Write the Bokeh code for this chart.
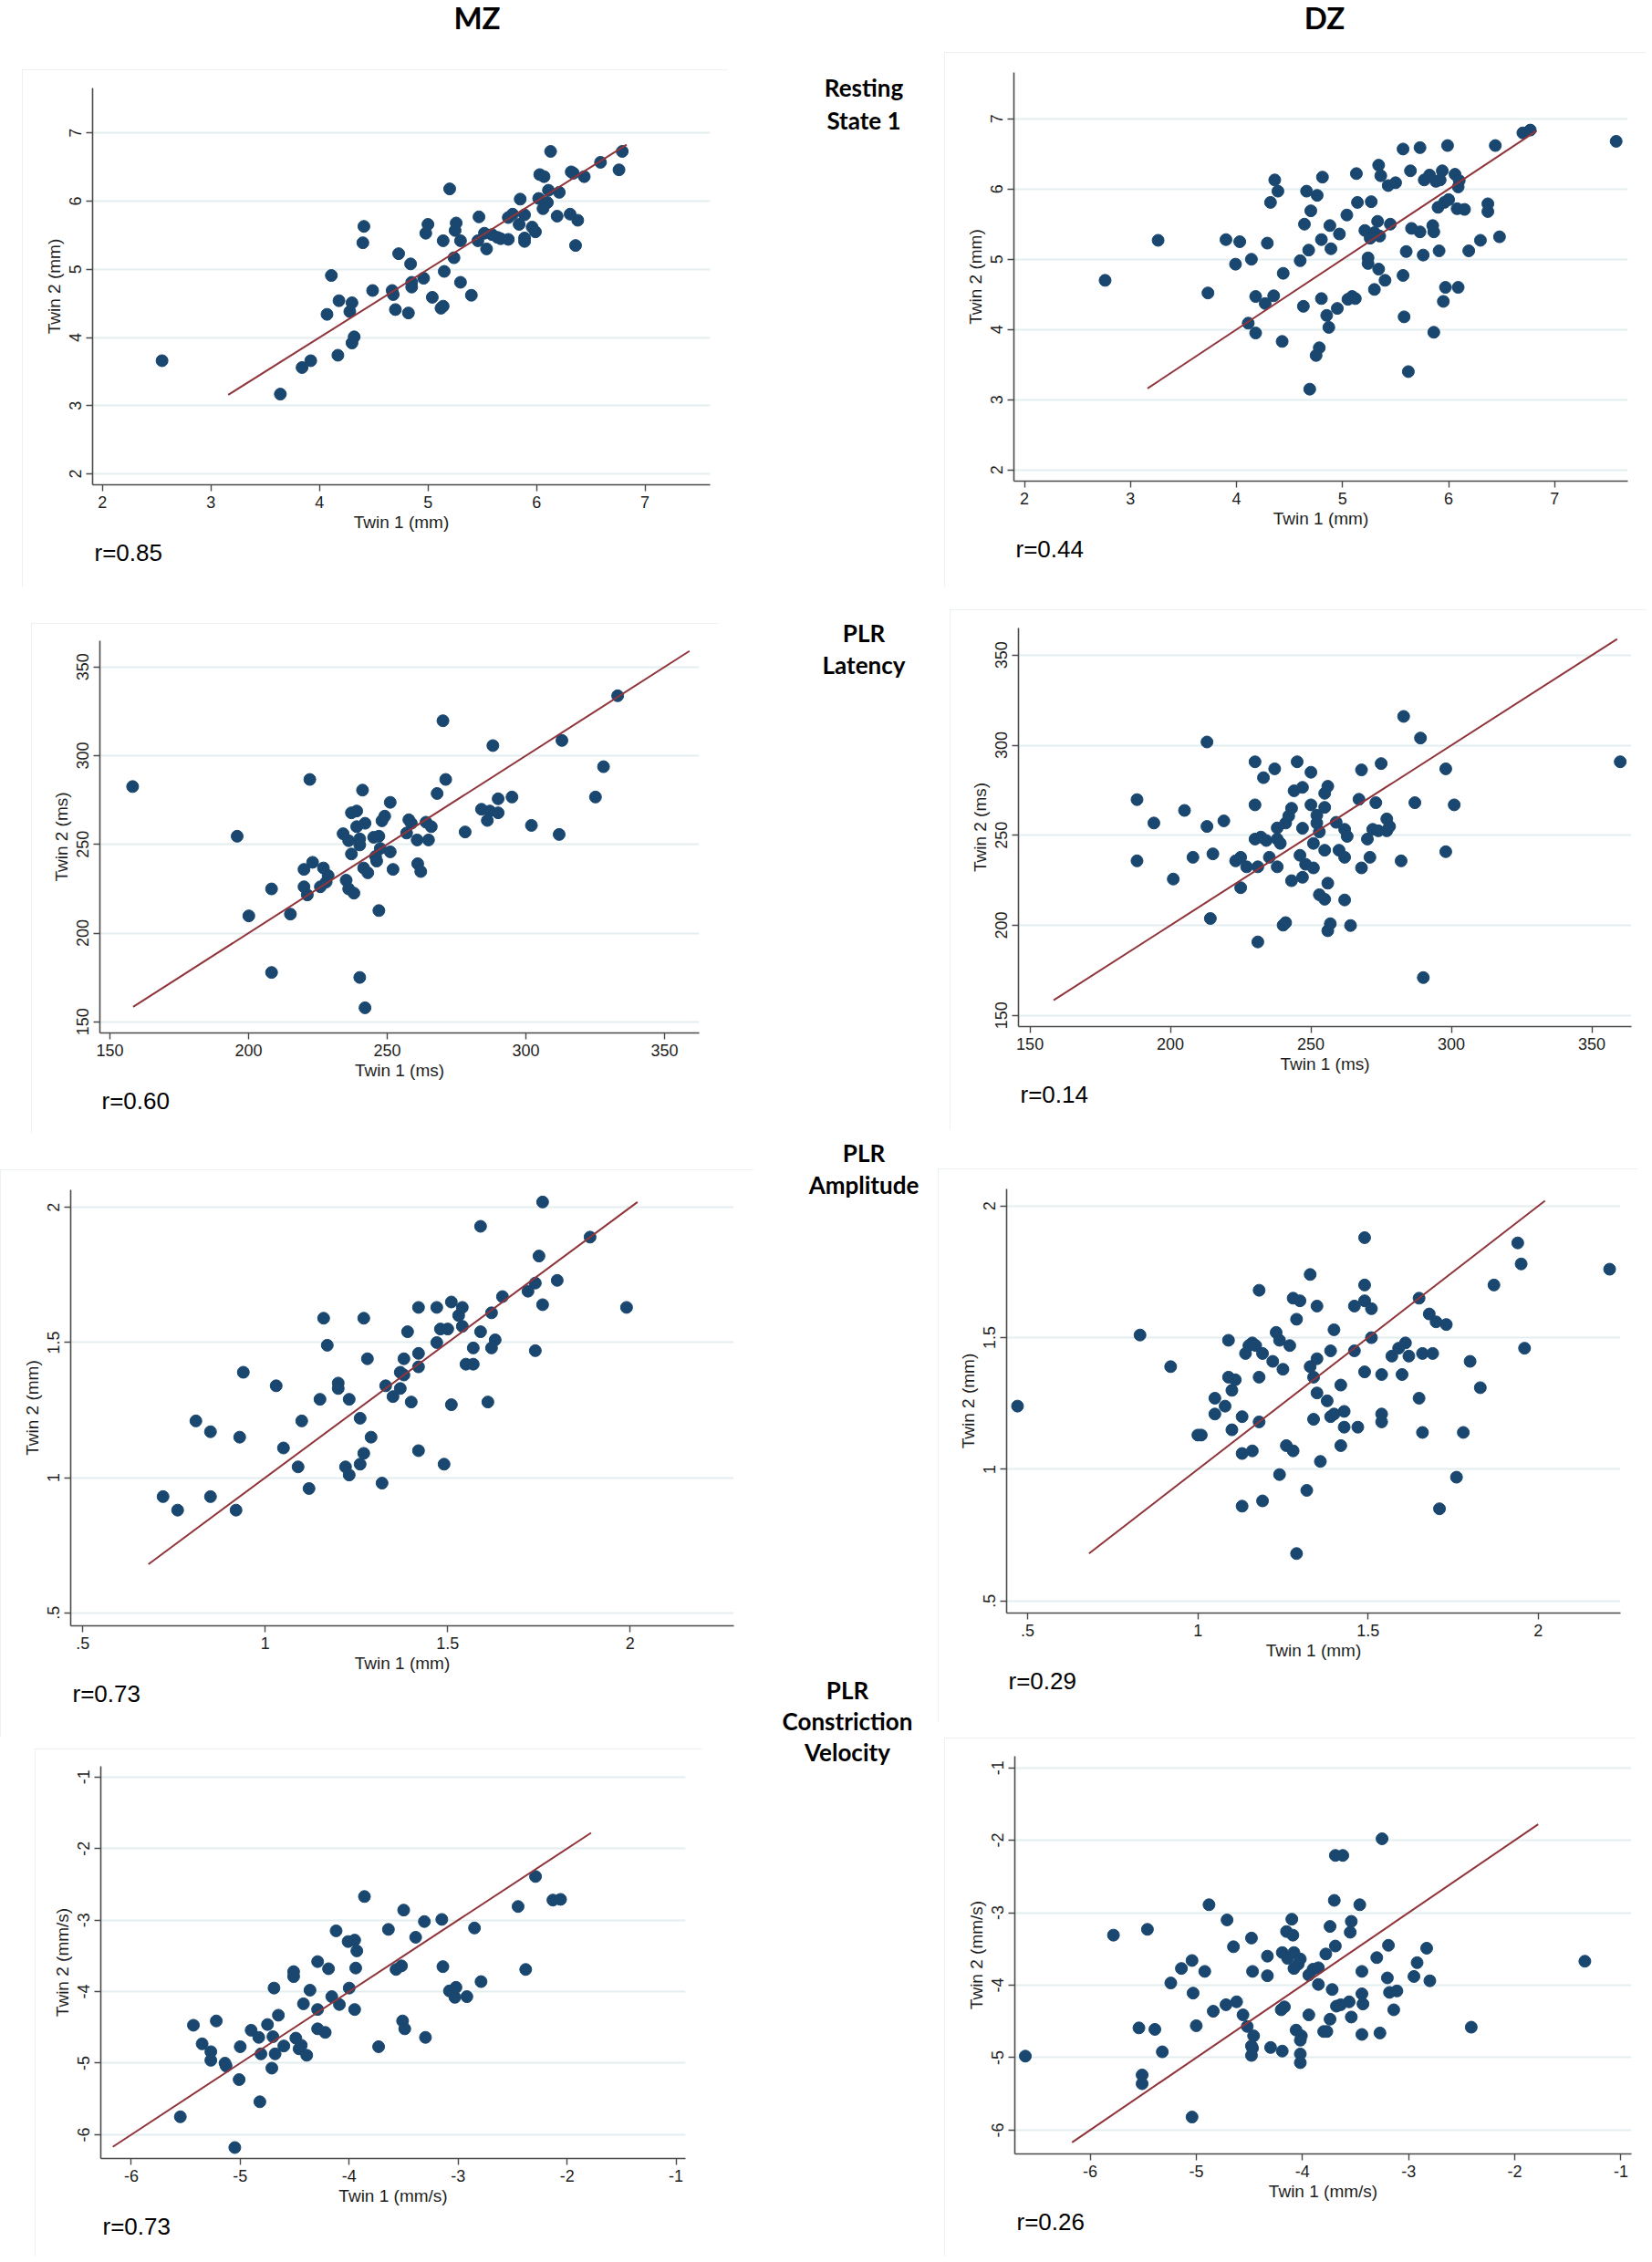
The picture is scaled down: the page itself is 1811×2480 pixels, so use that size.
from bokeh.plotting import figure
from bokeh.models import Range1d, FixedTicker, Title, Div, Spacer
from bokeh.layouts import row, column
from bokeh.embed import file_html
from bokeh.resources import INLINE

NAVY = "#1a476f"
MAROON = "#90353b"
GRID = "#e4edf0"
AXIS = "#4a4a4a"
TEXT = "#1e1e1e"
BOX = "#e6ecee"

# ---- data: twin 1 / twin 2 values ----
mz_rest_t1 = [2.55, 3.64, 3.84, 3.92, 4.17, 4.30, 4.32, 4.07, 4.28, 4.30,
              4.18, 4.11, 4.40, 4.41, 4.49, 4.67, 4.68, 4.70, 4.73, 4.82,
              4.84, 4.85, 4.85, 4.96, 4.98, 5.00, 5.04, 5.12, 5.14, 5.15,
              5.14, 5.20, 5.24, 5.25, 5.26, 5.30, 5.30, 5.40, 5.46, 5.47,
              5.52, 5.54, 5.59, 5.64, 5.67, 5.74, 5.74, 5.78, 5.84, 5.85,
              5.89, 5.89, 5.89, 5.96, 5.99, 6.02, 6.03, 6.07, 6.06, 6.10,
              6.11, 6.13, 6.19, 6.21, 6.31, 6.32, 6.34, 6.36, 6.38, 6.44,
              6.59, 6.76, 6.79]
mz_rest_t2 = [3.66, 3.17, 3.56, 3.66, 3.74, 3.92, 4.01, 4.34, 4.38, 4.51,
              4.54, 4.91, 5.39, 5.63, 4.69, 4.69, 4.63, 4.41, 5.23, 4.36,
              5.08, 4.81, 4.74, 4.87, 5.53, 5.66, 4.59, 4.43, 4.46, 4.97,
              5.42, 6.18, 5.17, 5.57, 5.68, 5.42, 4.81, 4.62, 5.42, 5.77,
              5.53, 5.30, 5.51, 5.47, 5.45, 5.44, 5.76, 5.81, 5.66, 6.03,
              5.80, 5.46, 5.41, 5.62, 5.55, 6.04, 6.39, 6.36, 5.89, 5.98,
              6.16, 6.73, 5.78, 6.13, 5.81, 6.43, 6.41, 5.35, 5.72, 6.36,
              6.57, 6.46, 6.73]

dz_rest_t1 = [2.76, 3.26, 3.73, 3.90, 4.03, 3.99, 4.14, 4.11, 4.18, 4.18,
              4.27, 4.35, 4.29, 4.32, 4.36, 4.39, 4.44, 4.43, 4.60, 4.63,
              4.64, 4.66, 4.68, 4.69, 4.70, 4.75, 4.78, 4.76, 4.80, 4.80,
              4.81, 4.85, 4.87, 4.88, 4.89, 4.95, 4.97, 5.04, 5.05, 5.09,
              5.12, 5.13, 5.14, 5.21, 5.24, 5.24, 5.26, 5.27, 5.30, 5.30,
              5.33, 5.34, 5.34, 5.35, 5.36, 5.40, 5.43, 5.45, 5.50, 5.57,
              5.57, 5.58, 5.60, 5.62, 5.64, 5.65, 5.73, 5.73, 5.76, 5.77,
              5.82, 5.85, 5.86, 5.86, 5.88, 5.90, 5.91, 5.92, 5.94, 5.95,
              5.96, 5.97, 5.99, 6.00, 6.06, 6.08, 6.09, 6.09, 6.10, 6.15,
              6.19, 6.30, 6.37, 6.37, 6.44, 6.48, 6.70, 6.77, 7.58]
dz_rest_t2 = [4.70, 5.27, 4.52, 5.28, 5.25, 4.93, 5.00, 4.09, 4.47, 3.95,
              4.37, 4.48, 5.23, 5.81, 6.13, 5.97, 4.80, 3.83, 4.98, 4.33,
              5.50, 5.97, 5.13, 3.15, 5.69, 3.63, 3.74, 5.91, 5.28, 4.44,
              6.17, 4.20, 4.03, 5.48, 5.15, 4.30, 5.36, 5.63, 4.43, 4.47,
              4.44, 6.22, 5.81, 5.41, 5.02, 4.94, 5.30, 5.82, 5.38, 4.57,
              5.54, 6.34, 4.86, 5.33, 6.19, 4.70, 6.05, 5.50, 6.09, 6.57,
              4.77, 4.18, 5.11, 3.40, 6.26, 5.44, 5.39, 6.59, 5.06, 6.13,
              6.20, 5.48, 5.39, 3.96, 6.11, 5.74, 5.12, 6.13, 6.26, 4.40,
              5.81, 4.60, 6.62, 5.85, 6.21, 5.72, 6.03, 4.60, 6.12, 5.71,
              5.12, 5.27, 5.79, 5.68, 6.62, 5.32, 6.80, 6.84, 6.68]

mz_lat_t1 = [158.2, 195.9, 200.1, 208.3, 208.3, 215.1, 220.0, 220.0, 221.2, 222.1,
             223.1, 225.9, 227.0, 228.0, 228.7, 234.1, 235.2, 236.1, 236.1, 237.1,
             237.1, 238.0, 239.0, 239.0, 240.1, 240.1, 240.1, 241.1, 241.5, 242.0,
             242.0, 243.0, 245.1, 245.8, 246.2, 247.0, 247.0, 247.5, 248.1, 249.1,
             251.1, 251.1, 252.1, 257.0, 257.8, 258.7, 260.8, 261.0, 262.1, 264.0,
             264.9, 265.9, 268.0, 270.1, 271.1, 278.1, 284.0, 286.1, 287.0, 288.1,
             290.0, 290.0, 295.0, 302.0, 312.0, 313.0, 325.1, 328.0, 333.1]
mz_lat_t2 = [282.6, 254.6, 209.7, 224.9, 177.8, 210.7, 235.9, 226.1, 221.5, 286.6,
             239.9, 226.1, 236.7, 228.8, 232.4, 256.0, 229.8, 224.9, 252.1, 244.6,
             267.8, 222.5, 268.8, 260.0, 253.1, 249.7, 175.0, 280.6, 236.7, 261.9,
             157.9, 234.0, 254.0, 243.2, 240.6, 254.6, 212.7, 247.7, 263.3, 265.9,
             245.8, 273.7, 235.9, 256.4, 263.9, 261.9, 252.5, 239.1, 234.7, 262.5,
             252.5, 260.0, 278.7, 319.7, 286.6, 257.0, 269.8, 263.5, 268.8, 305.7,
             275.7, 267.8, 276.7, 260.7, 255.6, 308.6, 276.7, 293.8, 333.8]

dz_lat_t1 = [188.1, 188.1, 194.1, 201.0, 205.0, 208.0, 213.0, 213.0, 214.2, 215.1,
             219.0, 223.2, 225.0, 225.0, 227.1, 230.1, 230.1, 230.1, 231.1, 231.1,
             232.2, 233.1, 234.1, 235.2, 237.1, 238.0, 238.0, 238.0, 239.1, 240.1,
             241.0, 241.0, 242.1, 243.1, 243.1, 244.0, 245.1, 246.1, 247.0, 247.0,
             247.0, 248.1, 250.0, 250.0, 250.9, 250.9, 252.1, 252.1, 253.0, 253.0,
             254.9, 254.9, 254.9, 254.9, 256.0, 256.0, 256.0, 256.9, 259.0, 260.0,
             262.0, 262.0, 262.0, 262.9, 264.1, 267.1, 268.0, 268.0, 270.1, 271.0,
             272.0, 273.1, 274.0, 275.0, 277.0, 277.0, 278.0, 282.1, 283.0, 287.0,
             289.0, 290.0, 298.0, 298.0, 301.0, 360.1]
dz_lat_t2 = [269.8, 235.8, 256.8, 225.7, 263.8, 237.8, 301.8, 254.9, 203.8, 239.7,
             258.0, 235.8, 237.8, 220.9, 232.5, 290.8, 266.9, 247.9, 232.5, 190.8,
             249.0, 282.0, 247.1, 237.8, 286.9, 254.1, 247.9, 232.5, 245.5, 200.1,
             256.8, 201.5, 260.7, 265.0, 224.8, 274.7, 290.8, 238.9, 276.6, 253.9,
             226.7, 233.9, 285.0, 266.9, 245.5, 231.9, 261.1, 256.8, 251.9, 217.0,
             273.3, 265.5, 241.7, 214.5, 277.2, 223.4, 197.0, 200.9, 257.2, 241.7,
             253.3, 237.8, 214.1, 249.4, 199.9, 270.0, 286.3, 231.9, 247.9, 237.8,
             253.3, 268.1, 252.5, 289.8, 259.1, 252.5, 254.9, 235.8, 316.0, 268.1,
             304.0, 171.0, 286.9, 240.9, 266.9, 290.8]

mz_amp_t1 = [0.72, 0.76, 0.81, 0.85, 0.85, 0.92, 0.93, 0.94, 1.03, 1.05,
             1.09, 1.10, 1.12, 1.15, 1.16, 1.17, 1.20, 1.20, 1.22, 1.23,
             1.23, 1.26, 1.26, 1.27, 1.27, 1.28, 1.29, 1.32, 1.33, 1.35,
             1.37, 1.37, 1.38, 1.38, 1.39, 1.40, 1.42, 1.42, 1.42, 1.42,
             1.47, 1.47, 1.48, 1.49, 1.50, 1.51, 1.51, 1.53, 1.54, 1.54,
             1.55, 1.57, 1.57, 1.59, 1.59, 1.61, 1.62, 1.62, 1.63, 1.65,
             1.72, 1.74, 1.74, 1.75, 1.76, 1.76, 1.80, 1.89, 1.99]
mz_amp_t2 = [0.93, 0.88, 1.21, 1.17, 0.93, 0.88, 1.15, 1.39, 1.34, 1.11,
             1.04, 1.21, 0.96, 1.29, 1.59, 1.49, 1.35, 1.33, 1.04, 1.29,
             1.01, 1.22, 1.05, 1.09, 1.59, 1.44, 1.15, 0.98, 1.34, 1.30,
             1.33, 1.39, 1.44, 1.38, 1.54, 1.28, 1.63, 1.46, 1.41, 1.10,
             1.63, 1.50, 1.55, 1.05, 1.55, 1.65, 1.27, 1.60, 1.63, 1.56,
             1.42, 1.42, 1.48, 1.93, 1.54, 1.28, 1.61, 1.48, 1.51, 1.67,
             1.69, 1.72, 1.47, 1.82, 2.02, 1.64, 1.73, 1.89, 1.63]

dz_amp_t1 = [0.47, 0.83, 0.92, 1.00, 1.01, 1.05, 1.05, 1.08, 1.09, 1.09,
             1.10, 1.10, 1.11, 1.13, 1.13, 1.13, 1.14, 1.15, 1.16, 1.16,
             1.17, 1.18, 1.18, 1.18, 1.19, 1.19, 1.22, 1.23, 1.24, 1.24,
             1.25, 1.26, 1.27, 1.28, 1.28, 1.29, 1.29, 1.30, 1.32, 1.33,
             1.33, 1.34, 1.34, 1.35, 1.35, 1.35, 1.36, 1.38, 1.39, 1.39,
             1.40, 1.40, 1.42, 1.42, 1.43, 1.43, 1.46, 1.46, 1.47, 1.49,
             1.49, 1.49, 1.49, 1.51, 1.51, 1.54, 1.54, 1.54, 1.57, 1.59,
             1.60, 1.61, 1.62, 1.65, 1.65, 1.66, 1.66, 1.68, 1.69, 1.70,
             1.71, 1.73, 1.76, 1.78, 1.80, 1.83, 1.87, 1.94, 1.95, 1.96,
             2.21]
dz_amp_t2 = [1.24, 1.51, 1.39, 1.13, 1.13, 1.27, 1.21, 1.24, 1.49, 1.35,
             1.30, 1.15, 1.34, 0.86, 1.06, 1.20, 1.44, 1.47, 1.48, 1.07,
             1.47, 1.68, 1.35, 1.18, 1.44, 0.88, 1.41, 1.52, 1.49, 0.98,
             1.38, 1.09, 1.47, 1.65, 1.07, 1.57, 0.68, 1.64, 0.92, 1.74,
             1.39, 1.35, 1.19, 1.62, 1.29, 1.42, 1.03, 1.26, 1.45, 1.20,
             1.53, 1.21, 1.32, 1.09, 1.22, 1.16, 1.62, 1.45, 1.16, 1.88,
             1.70, 1.64, 1.37, 1.61, 1.50, 1.36, 1.21, 1.18, 1.43, 1.46,
             1.36, 1.48, 1.43, 1.65, 1.27, 1.44, 1.14, 1.59, 1.44, 1.56,
             0.85, 1.55, 0.97, 1.14, 1.41, 1.31, 1.70, 1.86, 1.78, 1.46,
             1.76]

mz_vel_t1 = [-5.55, -5.43, -5.35, -5.22, -5.27, -5.27, -5.14, -5.13, -5.05, -5.01,
             -5.00, -4.90, -4.83, -4.82, -4.81, -4.75, -4.71, -4.70, -4.69, -4.68,
             -4.65, -4.60, -4.51, -4.51, -4.49, -4.46, -4.44, -4.42, -4.39, -4.36,
             -4.29, -4.29, -4.29, -4.22, -4.19, -4.16, -4.12, -4.09, -4.01, -4.00,
             -3.95, -3.95, -3.94, -3.93, -3.86, -3.73, -3.64, -3.57, -3.52, -3.51,
             -3.50, -3.49, -3.39, -3.31, -3.30, -3.15, -3.14, -3.08, -3.03, -3.02,
             -2.92, -2.85, -2.79, -2.45, -2.38, -2.29, -2.13, -2.06]
mz_vel_t2 = [-5.75, -4.47, -4.73, -4.41, -4.84, -4.96, -5.00, -5.04, -6.18, -5.23,
             -4.77, -4.54, -4.64, -5.54, -4.87, -4.46, -5.07, -4.63, -3.95, -4.87,
             -4.33, -4.76, -3.72, -3.79, -4.65, -4.80, -4.75, -4.17, -4.89, -3.98,
             -4.52, -3.58, -4.25, -4.57, -3.68, -4.07, -3.15, -4.18, -3.30, -3.95,
             -3.28, -4.25, -3.67, -3.43, -2.67, -4.77, -3.13, -3.69, -3.64, -4.41,
             -2.86, -4.52, -3.24, -3.02, -4.64, -2.99, -3.65, -3.99, -4.08, -3.94,
             -4.07, -3.11, -3.86, -2.81, -3.69, -2.39, -2.72, -2.71]

dz_vel_t1 = [-6.61, -5.78, -5.54, -5.51, -5.51, -5.46, -5.39, -5.32, -5.24, -5.14,
             -5.04, -5.03, -5.04, -5.00, -4.92, -4.88, -4.84, -4.72, -4.71, -4.65,
             -4.62, -4.56, -4.52, -4.48, -4.47, -4.48, -4.47, -4.48, -4.46, -4.33,
             -4.33, -4.30, -4.20, -4.19, -4.19, -4.17, -4.15, -4.14, -4.10, -4.09,
             -4.08, -4.08, -4.06, -4.04, -4.02, -4.02, -4.02, -4.02, -4.01, -3.94,
             -3.94, -3.90, -3.85, -3.85, -3.80, -3.78, -3.77, -3.74, -3.74, -3.72,
             -3.70, -3.69, -3.69, -3.68, -3.64, -3.62, -3.56, -3.55, -3.54, -3.54,
             -3.46, -3.44, -3.44, -3.43, -3.44, -3.30, -3.27, -3.25, -3.20, -3.19,
             -3.18, -3.14, -3.11, -2.95, -2.92, -2.83, -2.80, -2.41, -1.34]
dz_vel_t2 = [-4.98, -3.31, -4.59, -5.24, -5.36, -3.23, -4.61, -4.92, -3.97, -3.77,
             -3.66, -4.11, -5.82, -4.56, -3.81, -2.89, -4.36, -4.27, -3.10, -3.47,
             -4.23, -4.41, -4.57, -3.35, -3.81, -4.84, -4.87, -4.97, -4.70, -3.60,
             -3.87, -4.86, -4.34, -4.91, -3.55, -4.30, -3.26, -3.63, -3.09, -3.31,
             -3.55, -3.77, -4.62, -3.71, -3.64, -4.76, -4.95, -5.07, -4.70, -3.86,
             -4.41, -3.78, -3.76, -3.99, -4.64, -3.57, -4.64, -4.47, -3.19, -4.06,
             -2.83, -2.21, -3.46, -4.29, -4.27, -2.21, -4.23, -3.27, -3.12, -4.44,
             -2.89, -3.81, -4.12, -4.26, -4.68, -3.62, -4.66, -1.98, -3.90, -3.45,
             -4.10, -4.34, -4.08, -3.88, -3.69, -3.49, -3.94, -4.58, -3.67]

# line of equality (twin 1 = twin 2), drawn between these limits
eq_rest = [3.16, 6.83]
eq_lat = [158.4, 359.0]
eq_amp = [0.68, 2.02]
eq_vel = [-6.17, -1.78]

r_mz = ["r=0.85", "r=0.60", "r=0.73", "r=0.73"]
r_dz = ["r=0.44", "r=0.14", "r=0.29", "r=0.26"]

ticks_rest = [2, 3, 4, 5, 6, 7]
ticks_lat = [150, 200, 250, 300, 350]
ticks_amp = [0.5, 1, 1.5, 2]
ticks_amp_text = [".5", "1", "1.5", "2"]
ticks_vel = [-6, -5, -4, -3, -2, -1]

measures = ["Resting<br>State 1", "PLR<br>Latency", "PLR<br>Amplitude",
            "PLR<br>Constriction<br>Velocity"]


def make_panel(t1, t2, eq, r_text, xr, yr, ticks, tick_text, unit, size, borders):
    w, h = size
    bl, br, bt, bb = borders
    p = figure(width=w, height=h, x_range=Range1d(*xr), y_range=Range1d(*yr),
               output_backend="svg", toolbar_location=None,
               min_border_left=bl, min_border_right=br,
               min_border_top=bt, min_border_bottom=bb,
               styles={"outline": "2px solid " + BOX, "outline-offset": "-2px"})
    p.outline_line_color = None
    p.background_fill_color = "white"
    p.border_fill_color = "white"

    tk = FixedTicker(ticks=ticks)
    overrides = dict(zip(ticks, tick_text))
    for ax in (p.xaxis[0], p.yaxis[0]):
        ax.ticker = tk
        ax.major_label_overrides = overrides
        ax.axis_line_color = AXIS
        ax.axis_line_width = 1.6
        ax.major_tick_line_color = AXIS
        ax.major_tick_line_width = 1.4
        ax.major_tick_out = 7
        ax.major_tick_in = 0
        ax.minor_tick_line_color = None
        ax.major_label_text_font = "Liberation Sans"
        ax.major_label_text_font_size = "18px"
        ax.major_label_text_color = TEXT
        ax.axis_label_text_font = "Liberation Sans"
        ax.axis_label_text_font_size = "19px"
        ax.axis_label_text_font_style = "normal"
        ax.axis_label_text_color = TEXT
    p.xaxis.axis_label = "Twin 1 (%s)" % unit
    p.yaxis.axis_label = "Twin 2 (%s)" % unit
    p.xaxis.axis_label_standoff = 2
    p.yaxis.axis_label_standoff = 4
    p.yaxis.major_label_orientation = "vertical"

    p.xgrid.visible = False
    p.ygrid.ticker = tk
    p.ygrid.grid_line_color = GRID
    p.ygrid.grid_line_width = 2

    p.scatter(t1, t2, size=13, marker="circle", fill_color=NAVY, line_color=NAVY)
    p.line(eq, eq, line_color=MAROON, line_width=2)

    p.add_layout(Title(text=r_text, align="left", offset=2, standoff=6,
                       text_font="Liberation Sans", text_font_size="26px",
                       text_font_style="normal", text_color="black"), "below")
    return p


rest_text = [str(t) for t in ticks_rest]
lat_text = [str(t) for t in ticks_lat]
vel_text = [str(t) for t in ticks_vel]

p1 = make_panel(mz_rest_t1, mz_rest_t2, eq_rest, r_mz[0], (1.91, 7.60), (1.84, 7.66),
                ticks_rest, rest_text, "mm", (774, 567), (77, 20, 20, 112))
p2 = make_panel(dz_rest_t1, dz_rest_t2, eq_rest, r_dz[0], (1.90, 7.69), (1.84, 7.66),
                ticks_rest, rest_text, "mm", (769, 586), (76, 20, 22, 116))
p3 = make_panel(mz_lat_t1, mz_lat_t2, eq_lat, r_mz[1], (146.4, 362.5), (143.7, 364.8),
                ticks_lat, lat_text, "ms", (753, 559), (75, 21, 19, 110))
p4 = make_panel(dz_lat_t1, dz_lat_t2, eq_lat, r_dz[1], (145.9, 364.1), (143.8, 365.1),
                ticks_lat, lat_text, "ms", (764, 570), (75, 17, 20, 113))
p5 = make_panel(mz_amp_t1, mz_amp_t2, eq_amp, r_mz[2], (0.467, 2.284), (0.452, 2.065),
                ticks_amp, ticks_amp_text, "mm", (826, 622), (77, 22, 22, 122))
p6 = make_panel(dz_amp_t1, dz_amp_t2, eq_amp, r_dz[2], (0.438, 2.242), (0.454, 2.065),
                ticks_amp, ticks_amp_text, "mm", (767, 607), (75, 19, 22, 120))
p7 = make_panel(mz_vel_t1, mz_vel_t2, eq_vel, r_mz[3], (-6.28, -0.913), (-6.333, -0.849),
                ticks_vel, vel_text, "mm/s", (732, 557), (72, 19, 19, 108))
p8 = make_panel(dz_vel_t1, dz_vel_t2, eq_vel, r_dz[3], (-6.709, -0.901), (-6.329, -0.841),
                ticks_vel, vel_text, "mm/s", (758, 569), (77, 5, 20, 113))


def label(text, width, height, size, line_h):
    return Div(text=text, width=width, height=height,
               styles={"font-family": "Lato", "font-weight": "bold",
                       "font-size": size, "line-height": line_h,
                       "text-align": "center", "color": "black"})


left_col = column(
    row(Spacer(width=418, height=40), label("MZ", 200, 40, "33px", "28px")),
    Spacer(width=10, height=26),
    row(Spacer(width=24, height=10), p1),
    Spacer(width=10, height=40),
    row(Spacer(width=34, height=10), p3),
    Spacer(width=10, height=40),
    p5,
    Spacer(width=10, height=13),
    row(Spacer(width=38, height=10), p7),
)

mid_col = column(
    Spacer(width=192, height=73),
    row(Spacer(width=40, height=10), label(measures[0], 152, 92, "26px", "36px")),
    Spacer(width=192, height=497),
    row(Spacer(width=40, height=10), label(measures[1], 152, 92, "26px", "35px")),
    Spacer(width=192, height=468),
    row(Spacer(width=40, height=10), label(measures[2], 152, 88, "26px", "35px")),
    Spacer(width=192, height=491),
    row(Spacer(width=4, height=10), label(measures[3], 188, 125, "26px", "34px")),
)

right_col = column(
    row(Spacer(width=319, height=40), label("DZ", 200, 40, "33px", "28px")),
    Spacer(width=10, height=7),
    row(Spacer(width=7, height=10), p2),
    Spacer(width=10, height=25),
    row(Spacer(width=13, height=10), p4),
    Spacer(width=10, height=43),
    p6,
    Spacer(width=10, height=17),
    row(Spacer(width=7, height=10), p8),
)

page = row(left_col, mid_col, right_col)

open("out.html", "w").write(file_html(page, INLINE))
